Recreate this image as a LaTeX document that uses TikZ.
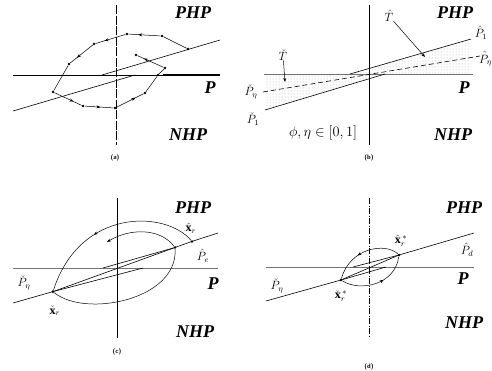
\documentclass[tikz,border=0pt]{standalone}
\usepackage{amsmath,amssymb}
\usepackage{fontspec}
\setmainfont{Liberation Serif}
\usepackage{tikz}
\usetikzlibrary{arrows.meta,decorations.markings,patterns}

\begin{document}
\begin{tikzpicture}[
  x=1pt,y=-1pt,
  region/.style={font=\fontsize{18}{18}\selectfont\bfseries\itshape,inner sep=0pt},
  figcap/.style={font=\fontsize{6.5}{7}\sffamily\bfseries,inner sep=0pt},
  lab/.style={font=\large,inner sep=0pt},
  axis/.style={line width=0.6pt},
  haxis/.style={line width=0.9pt,black!55},
  sw/.style={line width=0.6pt},
  traj/.style={line width=0.5pt},
  dot/.style={circle,fill,inner sep=0pt,minimum size=2.8pt},
  ar/.style={-{Stealth[length=4pt,width=3pt]},line width=0.5pt},
  mid/.style={postaction={decorate},decoration={markings,
     mark=at position #1 with {\arrow{Stealth[length=4pt,width=3pt]}}}},
  mid/.default=0.7
]
\useasboundingbox (0,0) rectangle (492,370);
% (a) discrete trajectory
\draw[axis,dash pattern=on 9pt off 1.5pt] (116,5) -- (116,145);
\draw[axis] (13,75) -- (220,75);
\draw[line width=1.2pt] (163,75) -- (220,75);
\draw[sw] (102,75) -- (220,40);
\draw[sw] (13,111) -- (135,75);
\foreach \n/\x/\y in {1/188/49,2/162/36,3/127/34,4/94/44,5/69/64,6/53/92,
    7/83/106,8/115/108,9/145/93,10/158/75,11/165/68,12/136/55}
  \node[dot] (a\n) at (\x,\y) {};
\draw[traj] (a1) -- (a2);
\draw[traj,mid] (a2) -- (a3);
\draw[traj,mid] (a3) -- (a4);
\draw[traj,mid] (a4) -- (a5);
\draw[traj] (a5) -- (a6);
\draw[traj,mid] (a6) -- (a7);
\draw[traj,mid=0.55] (a7) -- (a8);
\draw[traj,mid] (a8) -- (a9);
\draw[traj] (a9) -- (a10);
\draw[traj] (a10) -- (a11);
\draw[traj,mid=0.75] (a11) -- (a12);
\node[region] (aphp) at (193,13) {PHP};
\node[region] (ap) at (210,88) {P};
\node[region] (anhp) at (188,135) {NHP};
\node[figcap] (acap) at (115,158) {(a)};
% (b) boundary layer
\fill[pattern=dots,pattern color=black!30] (350,74) -- (471,39) -- (471,74) -- cycle;
\fill[pattern=dots,pattern color=black!30] (385,74) -- (265,110) -- (265,74) -- cycle;
\draw[axis,line width=0.9pt] (369,5) -- (369,145);
\draw[haxis] (264,74) -- (473,74);
\draw[sw] (350,74) -- (471,39);
\draw[sw] (265,110) -- (385,74);
\draw[sw,dashed,dash pattern=on 5pt off 3pt] (263,92) -- (480,56);
\node[lab] (bth) at (389,16) {$\hat{T}$};
\node[lab] (btc) at (283,55) {$\check{T}$};
\coordinate (bthtip) at (425,57);
\coordinate (btctip) at (285,82);
\draw[ar] (bth) -- (bthtip);
\draw[ar] (btc) -- (btctip);
\node[lab] (bp1h) at (481,33) {$\hat{P}_1$};
\node[lab,anchor=east] (bpeh) at (492,59) {$\hat{P}_\eta$};
\node[lab] (bpec) at (251,92) {$\check{P}_\eta$};
\node[lab] (bp1c) at (253,119) {$\check{P}_1$};
\node[font=\fontsize{15}{15}\selectfont,inner sep=0pt] (brange) at (323,133) {$\phi,\eta\in[0,1]$};
\node[region] (bphp) at (455,13) {PHP};
\node[region] (bp) at (464,88) {P};
\node[region] (bnhp) at (453,135) {NHP};
\node[figcap] (bcap) at (369,158) {(b)};
% (c) reaching with band
\draw[axis,line width=0.9pt] (117,198) -- (117,338);
\draw[haxis] (13,268) -- (218,268);
\node[dot] (cxh) at (192,241.4) {};
\node[dot] (cq) at (175,247.5) {};
\node[dot] (cxc) at (53,291.6) {};
\coordinate (cl) at (13,303);
\coordinate (cr) at (218,233);
\draw[sw] (cl) -- (cxc.center) -- (cq.center) -- (cxh.center) -- (cr);
\draw[sw] (103,268) -- (cq);
\draw[sw] (cxc) -- (143,268);
\coordinate (cend) at (107,242);
\draw[traj,mid=0.6] (cxh) .. controls (165,210) and (80,208) .. (cxc);
\draw[traj] (cxc) .. controls (85,318) and (178,300) .. (cq);
\draw[ar] (cq) .. controls (160,228) and (130,228) .. (cend);
\node[lab] (cxhl) at (191,228) {$\hat{\mathbf{x}}_r$};
\node[lab] (cpe) at (203,256) {$\hat{P}_e$};
\node[lab] (cpc) at (24,283) {$\check{P}_\eta$};
\node[lab] (cxcl) at (55,311) {$\check{\mathbf{x}}_r$};
\node[region] (cphp) at (193,208) {PHP};
\node[region] (cp) at (213,284) {P};
\node[region] (cnhp) at (195,332) {NHP};
\node[figcap] (ccap) at (117,352) {(c)};
% (d) final band
\draw[axis,dash pattern=on 6pt off 1.5pt on 1pt off 1.5pt] (369,198) -- (369,337);
\draw[haxis] (266,267) -- (474,267);
\node[dot] (dxh) at (399,255) {};
\node[dot] (dxc) at (341,280) {};
\coordinate (dl) at (266,301);
\coordinate (dr) at (474,233);
\draw[sw] (dl) -- (dxc.center) -- (dxh.center) -- (dr);
\draw[sw] (353,267) -- (dxh);
\draw[sw] (dxc) -- (386,267);
\draw[traj,mid=0.6] (dxh) .. controls (385,242) and (350,248) .. (dxc);
\draw[traj,mid=0.6] (dxc) .. controls (360,292) and (395,285) .. (dxh);
\node[lab] (dxhl) at (401,241) {$\hat{\mathbf{x}}_r^{\,*}$};
\node[lab] (dxcl) at (341,296) {$\check{\mathbf{x}}_r^{\,*}$};
\node[lab] (dpd) at (467,250) {$\hat{P}_d$};
\node[lab] (dpc) at (277,286) {$\check{P}_\eta$};
\node[region] (dphp) at (464,208) {PHP};
\node[region] (dp) at (463,279) {P};
\node[region] (dnhp) at (464,323) {NHP};
\node[figcap] (dcap) at (369,367) {(d)};
\end{tikzpicture}
\end{document}
